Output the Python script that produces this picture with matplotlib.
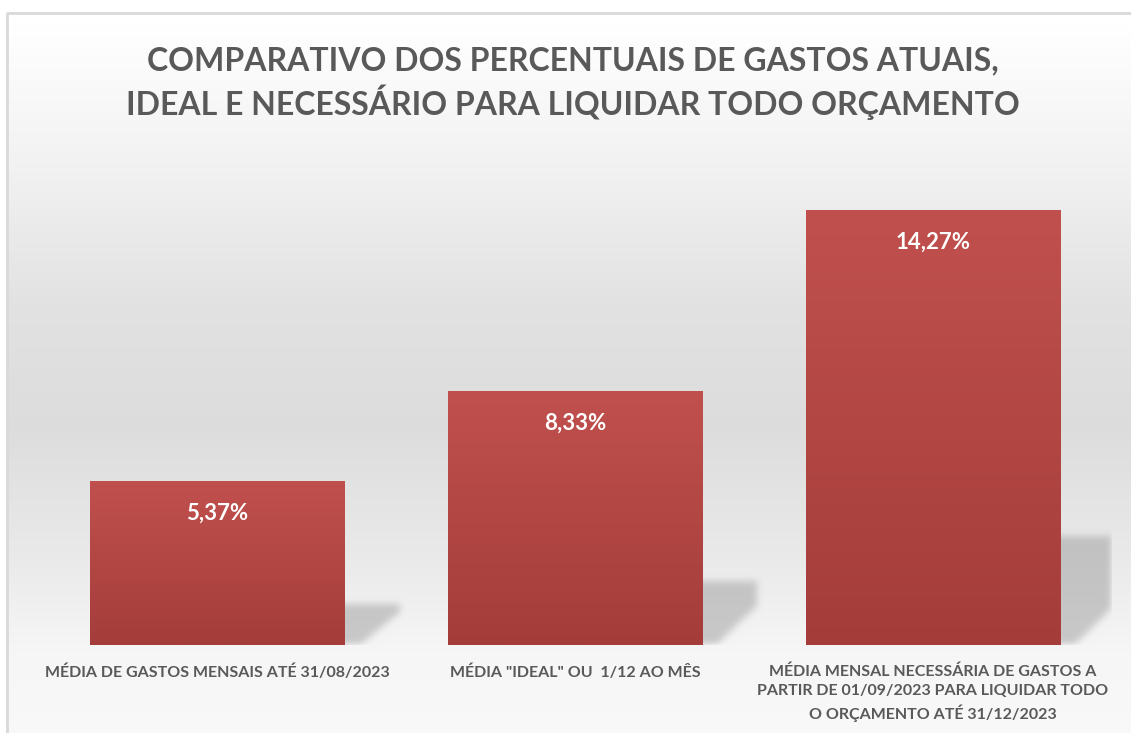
import numpy as np
import matplotlib
matplotlib.use("Agg")
import matplotlib.pyplot as plt
from matplotlib.patches import Rectangle
from matplotlib.path import Path

categories = [
    "MÉDIA DE GASTOS MENSAIS ATÉ 31/08/2023",
    "MÉDIA \"IDEAL\" OU  1/12 AO MÊS",
    "MÉDIA MENSAL NECESSÁRIA DE GASTOS A\nPARTIR DE 01/09/2023 PARA LIQUIDAR TODO\nO ORÇAMENTO ATÉ 31/12/2023",
]
values = [5.37, 8.33, 14.27]
value_labels = ["5,37%", "8,33%", "14,27%"]
title = "COMPARATIVO DOS PERCENTUAIS DE GASTOS ATUAIS,\nIDEAL E NECESSÁRIO PARA LIQUIDAR TODO ORÇAMENTO"

W, H = 1131, 733
TEXT = "#595959"
plt.rcParams["font.family"] = ["Lato", "DejaVu Sans"]


def blur(a, r=4, passes=3):
    k = np.ones(2 * r + 1) / (2 * r + 1)
    for _ in range(passes):
        a = np.apply_along_axis(lambda v: np.convolve(v, k, mode="same"), 0, a)
        a = np.apply_along_axis(lambda v: np.convolve(v, k, mode="same"), 1, a)
    return a


fig = plt.figure(figsize=(W / 100, H / 100), dpi=100)

# background panel with vertical gray gradient and thin border
bg = fig.add_axes([0, 0, 1, 1])
bg.set_xlim(0, W); bg.set_ylim(H, 0); bg.axis("off")
stops_y = [0, 13, 150, 300, 420, 550, 650, 733]
stops_v = [1.0, 1.0, 0.95, 0.885, 0.865, 0.915, 0.965, 0.975]
shade = np.interp(np.arange(H), stops_y, stops_v)
grad = np.repeat(shade[:, None], 2, axis=1)
bg.imshow(np.dstack([grad, grad, grad]), extent=(7, W + 5, H, 13), aspect="auto", zorder=0)
bg.plot([7, 7, W + 5], [H + 5, 13, 13], color="#d9d9d9", lw=2, zorder=1)
bg.text(573, 83, title, ha="center", va="center", fontsize=23, fontweight="bold",
        color=TEXT, linespacing=1.3)

ax = fig.add_axes([38 / W, 1 - 645 / H, (1112 - 38) / W, 488 / H])
ax.patch.set_alpha(0)
ax.set_xlim(-0.5, 2.5)
ax.set_ylim(0, 16)
x = np.arange(len(values))
width = 0.71
bars = ax.bar(x, values, width=width, color="#b34744", zorder=3)

# soft perspective shadows to the right of each bar (rasterised mask, blurred)
nx, ny = 1074, 488
gx = np.linspace(-0.5, 2.5, nx)
gy = np.linspace(16, 0, ny)
XX, YY = np.meshgrid(gx, gy)
pts = np.column_stack([XX.ravel(), YY.ravel()])
mask = np.zeros(XX.shape)
for xi, v in zip(x, values):
    xr = xi + width / 2
    s = 0.25 * v
    poly = Path([(xr - 0.02, -0.3), (xr - 0.02, s), (xr + 0.155, s),
                 (xr + 0.155, min(1.3, 0.8 * s)), (xr + 0.015, -0.3)])
    mask = np.maximum(mask, poly.contains_points(pts).reshape(XX.shape))
mask = blur(mask, r=3, passes=3)
shadow = np.zeros(mask.shape + (4,))
shadow[..., :3] = 0.55
shadow[..., 3] = 0.42 * mask
ax.imshow(shadow, extent=(-0.5, 2.5, 0, 16), aspect="auto", zorder=2, interpolation="bilinear")

# vertical red gradient inside each bar
g = np.linspace(0, 1, 100)[:, None]
top = np.array([192, 80, 77]) / 255
bot = np.array([164, 61, 58]) / 255
img = top[None, None, :] * (1 - g[..., None]) + bot[None, None, :] * g[..., None]
for b in bars:
    bx, by, bw, bh = b.get_x(), b.get_y(), b.get_width(), b.get_height()
    im = ax.imshow(img, extent=(bx, bx + bw, by, by + bh), aspect="auto", zorder=4)
    im.set_clip_path(Rectangle((bx, by), bw, bh, transform=ax.transData))

for xi, v, lab in zip(x, values, value_labels):
    ax.text(xi, v - 1.05, lab, ha="center", va="center", fontsize=16, fontweight="bold",
            color="white", zorder=5)

ax.set_xlim(-0.5, 2.5)
ax.set_ylim(0, 16)
ax.set_yticks([])
ax.set_xticks(x, categories)
ax.tick_params(axis="x", length=0, pad=14, labelsize=11.5, labelcolor=TEXT)
for t in ax.get_xticklabels():
    t.set_fontweight("bold")
    t.set_linespacing(1.45)
for sp in ax.spines.values():
    sp.set_visible(False)

fig.savefig("out.png", dpi=100)
